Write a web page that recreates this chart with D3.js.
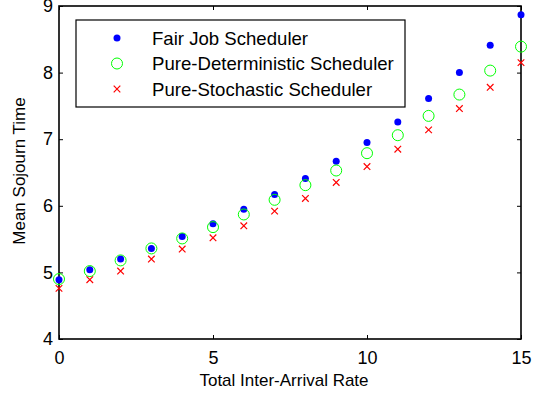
<!DOCTYPE html>
<html>
<head>
<meta charset="utf-8">
<script src="https://cdn.jsdelivr.net/npm/d3@7"></script>
<style>
  body { margin: 0; background: #fff; }
  text { font-family: "Liberation Sans", Arial, sans-serif; fill: #000; }
</style>
</head>
<body>
<svg id="chart" width="540" height="396"></svg>
<script>
const rates = [0, 1, 2, 3, 4, 5, 6, 7, 8, 9, 10, 11, 12, 13, 14, 15];
const fairJob = [4.89, 5.04, 5.20, 5.36, 5.54, 5.73, 5.95, 6.17, 6.41, 6.67, 6.95, 7.26, 7.61, 8.00, 8.41, 8.87];
const pureDet = [4.90, 5.02, 5.18, 5.36, 5.51, 5.68, 5.87, 6.09, 6.31, 6.53, 6.79, 7.06, 7.35, 7.67, 8.03, 8.39];
const pureSto = [4.76, 4.89, 5.02, 5.20, 5.35, 5.52, 5.70, 5.92, 6.11, 6.35, 6.59, 6.85, 7.14, 7.46, 7.78, 8.15];
const xTicks = [0, 5, 10, 15];
const yTicks = [4, 5, 6, 7, 8, 9];
const legendLabels = ["Fair Job Scheduler", "Pure-Deterministic Scheduler", "Pure-Stochastic Scheduler"];

const svg = d3.select("#chart");
const plotLeft = 59, plotRight = 521, plotTop = 6, plotBottom = 339;
const fontFam = "Liberation Sans, Arial, sans-serif";

const x = d3.scaleLinear().domain([0, 15]).range([plotLeft, plotRight]);
const y = d3.scaleLinear().domain([4, 9]).range([plotBottom, plotTop]);

// frame
svg.append("rect")
    .attr("x", plotLeft).attr("y", plotTop)
    .attr("width", plotRight - plotLeft).attr("height", plotBottom - plotTop)
    .attr("fill", "none").attr("stroke", "#000").attr("stroke-width", 1.6);

// inward ticks on all four sides
const tk = 4;
svg.append("g").attr("transform", `translate(0,${plotBottom})`)
    .call(d3.axisBottom(x).tickValues(xTicks).tickSizeInner(-tk).tickSizeOuter(0).tickPadding(12))
    .call(g => g.select(".domain").remove())
    .call(g => g.selectAll("text").attr("font-size", 18).attr("font-family", fontFam));
svg.append("g").attr("transform", `translate(0,${plotTop})`)
    .call(d3.axisTop(x).tickValues(xTicks).tickSizeInner(-tk).tickSizeOuter(0).tickFormat(""))
    .call(g => g.select(".domain").remove());
svg.append("g").attr("transform", `translate(${plotLeft},0)`)
    .call(d3.axisLeft(y).tickValues(yTicks).tickSizeInner(-tk).tickSizeOuter(0).tickPadding(6).tickFormat(d3.format("d")))
    .call(g => g.select(".domain").remove())
    .call(g => g.selectAll("text").attr("font-size", 18).attr("font-family", fontFam));
svg.append("g").attr("transform", `translate(${plotRight},0)`)
    .call(d3.axisRight(y).tickValues(yTicks).tickSizeInner(-tk).tickSizeOuter(0).tickFormat(""))
    .call(g => g.select(".domain").remove());

// axis labels
svg.append("text")
    .attr("x", 284).attr("y", 386)
    .attr("text-anchor", "middle").attr("font-size", 17)
    .text("Total Inter-Arrival Rate");
svg.append("text")
    .attr("transform", `translate(25,171) rotate(-90)`)
    .attr("text-anchor", "middle").attr("font-size", 17)
    .text("Mean Sojourn Time");

function drawDot(g, cx, cy) {
    g.append("circle").attr("cx", cx).attr("cy", cy).attr("r", 3.5).attr("fill", "#0000ff");
}
function drawRing(g, cx, cy) {
    g.append("circle").attr("cx", cx).attr("cy", cy).attr("r", 5.5)
        .attr("fill", "none").attr("stroke", "#00ff00").attr("stroke-width", 1);
}
function drawCross(g, cx, cy) {
    const s = 3.3;
    g.append("path")
        .attr("d", `M${cx - s},${cy - s}L${cx + s},${cy + s}M${cx - s},${cy + s}L${cx + s},${cy - s}`)
        .attr("stroke", "#ff0000").attr("stroke-width", 1.2).attr("fill", "none");
}

const marks = svg.append("g");
rates.forEach((r, i) => {
    drawDot(marks, x(r), y(fairJob[i]));
    drawRing(marks, x(r), y(pureDet[i]));
    drawCross(marks, x(r), y(pureSto[i]));
});

// legend
const lg = svg.append("g");
lg.append("rect")
    .attr("x", 76).attr("y", 20).attr("width", 329).attr("height", 87)
    .attr("fill", "#fff").attr("stroke", "#000").attr("stroke-width", 1.2);
const rowY = [38, 63.5, 89];
const drawers = [drawDot, drawRing, drawCross];
legendLabels.forEach((lab, i) => {
    drawers[i](lg, 117, rowY[i]);
    lg.append("text").attr("x", 152).attr("y", rowY[i] + 6.5)
        .attr("font-size", 18.6).text(lab);
});
</script>
</body>
</html>
